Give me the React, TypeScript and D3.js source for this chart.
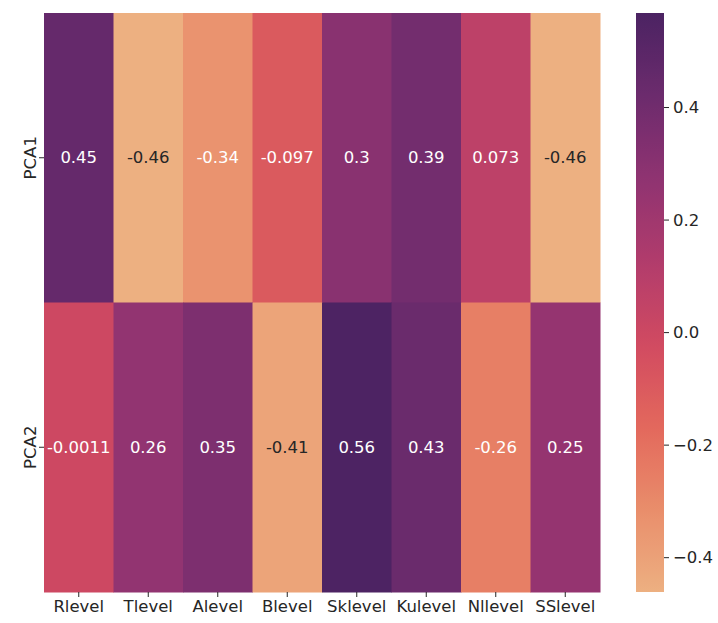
import React from "react";
import * as d3 from "d3";

const rows = ["PCA1", "PCA2"];
const cols = ["Rlevel", "Tlevel", "Alevel", "Blevel", "Sklevel", "Kulevel", "Nllevel", "SSlevel"];
const pca1 = [0.45, -0.46, -0.34, -0.097, 0.3, 0.39, 0.073, -0.46];
const pca2 = [-0.0011, 0.26, 0.35, -0.41, 0.56, 0.43, -0.26, 0.25];
const labels1 = ["0.45", "-0.46", "-0.34", "-0.097", "0.3", "0.39", "0.073", "-0.46"];
const labels2 = ["-0.0011", "0.26", "0.35", "-0.41", "0.56", "0.43", "-0.26", "0.25"];
const cbTicks = [-0.4, -0.2, 0.0, 0.2, 0.4];
const flareStops = ["#edb081", "#e98d6b", "#e3685c", "#d14a61", "#b13c6c", "#8f3371", "#6c2b6d", "#4b2362"];

const vmin = -0.461;
const vmax = 0.568;

export default function App() {
  const W = 718, H = 623;
  const left = 44, right = 600, top = 13, bottom = 592;
  const x = d3.scaleBand<string>().domain(cols).range([left, right]).padding(0);
  const y = d3.scaleBand<string>().domain(rows).range([top, bottom]).padding(0);
  const interp = d3.piecewise(d3.interpolateRgb, flareStops);
  const color = (v: number) => interp(Math.max(0, Math.min(1, (v - vmin) / (vmax - vmin))));
  const cbX0 = 636, cbX1 = 664;
  const cy = d3.scaleLinear().domain([vmin, vmax]).range([bottom, top]);
  const data = [
    { row: rows[0], vals: pca1, labs: labels1 },
    { row: rows[1], vals: pca2, labs: labels2 },
  ];
  const textColor = (c: string) => {
    const rgb = d3.rgb(c);
    const lin = (u: number) => {
      u /= 255;
      return u <= 0.03928 ? u / 12.92 : Math.pow((u + 0.055) / 1.055, 2.4);
    };
    const lum = 0.2126 * lin(rgb.r) + 0.7152 * lin(rgb.g) + 0.0722 * lin(rgb.b);
    return lum > 0.408 ? "#262626" : "#ffffff";
  };
  const font = "DejaVu Sans, sans-serif";
  const fs = 16.5;
  const gradStops = d3.range(0, 1.0001, 0.02);
  return (
    <svg width={W} height={H} style={{ position: "absolute", left: 0, top: 0, background: "#fff" }}>
      <defs>
        <linearGradient id="cbgrad" x1="0" y1="1" x2="0" y2="0">
          {gradStops.map((t, i) => (
            <stop key={i} offset={t} stopColor={interp(t)} />
          ))}
        </linearGradient>
      </defs>
      {data.map((d) =>
        d.vals.map((v, i) => {
          const c = color(v);
          return (
            <g key={d.row + i}>
              <rect x={x(cols[i])} y={y(d.row)} width={x.bandwidth() + 0.5} height={y.bandwidth() + 0.5} fill={c} />
              <text
                x={(x(cols[i]) as number) + x.bandwidth() / 2}
                y={(y(d.row) as number) + y.bandwidth() / 2}
                textAnchor="middle"
                dominantBaseline="central"
                fontFamily={font}
                fontSize={fs}
                fill={textColor(c)}
              >
                {d.labs[i]}
              </text>
            </g>
          );
        })
      )}
      {cols.map((c) => {
        const cx = (x(c) as number) + x.bandwidth() / 2;
        return (
          <g key={c}>
            <line x1={cx} x2={cx} y1={bottom} y2={bottom + 5} stroke="#262626" strokeWidth={1} />
            <text x={cx} y={bottom + 8} textAnchor="middle" dominantBaseline="hanging" fontFamily={font} fontSize={fs} fill="#262626">
              {c}
            </text>
          </g>
        );
      })}
      {rows.map((r) => {
        const cyy = (y(r) as number) + y.bandwidth() / 2;
        return (
          <g key={r}>
            <line x1={left - 5} x2={left} y1={cyy} y2={cyy} stroke="#262626" strokeWidth={1} />
            <text
              transform={`translate(${left - 8},${cyy}) rotate(-90)`}
              textAnchor="middle"
              fontFamily={font}
              fontSize={fs}
              fill="#262626"
            >
              {r}
            </text>
          </g>
        );
      })}
      <rect x={cbX0} y={top} width={cbX1 - cbX0} height={bottom - top} fill="url(#cbgrad)" />
      {cbTicks.map((t) => (
        <g key={t}>
          <line x1={cbX1} x2={cbX1 + 5} y1={cy(t)} y2={cy(t)} stroke="#262626" strokeWidth={1} />
          <text x={cbX1 + 9} y={cy(t)} dominantBaseline="central" fontFamily={font} fontSize={fs} fill="#262626">
            {d3.format(".1f")(t).replace("-", "\u2212")}
          </text>
        </g>
      ))}
    </svg>
  );
}
